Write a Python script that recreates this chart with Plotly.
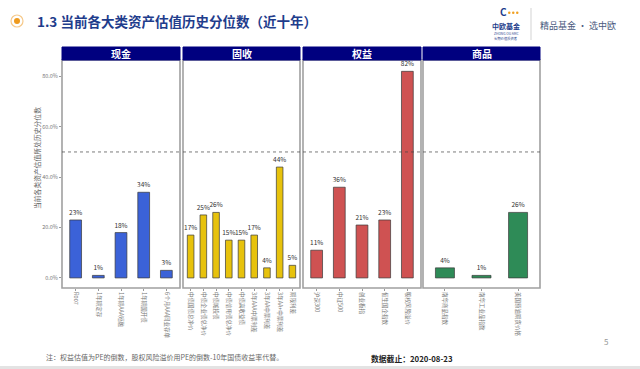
import plotly.graph_objects as go

# ---------------- data ----------------
panel_titles = ["现金", "固收", "权益", "商品"]
cash_labels = ["R007", "1年期定存", "1年期AAA短融", "1年期国开债", "6个月AAA同业存单"]
cash_values = [23, 1, 18, 34, 3]
fixed_labels = ["中债国债总净价", "中债企业债总净价", "中债城投债", "中债信用债总净价", "中债高收益债",
                "3年AAA中票利差", "3年AA中票利差", "3年AA+中票利差", "期限利差"]
fixed_values = [17, 25, 26, 15, 15, 17, 4, 44, 5]
equity_labels = ["沪深300", "中证500", "创业板指", "恒生国企指数", "股权风险溢价"]
equity_values = [11, 36, 21, 23, 82]
comm_labels = ["南华商品指数", "南华工业品指数", "美国原油期货价格"]
comm_values = [4, 1, 26]
y_ticks = [0, 20, 40, 60, 80]
y_ticktext = ["0.0%", "20.0%", "40.0%", "60.0%", "80.0%"]
reference_level = 50

panels = [
    (cash_labels, cash_values, "#3B62D8"),
    (fixed_labels, fixed_values, "#E7C20C"),
    (equity_labels, equity_values, "#CF5252"),
    (comm_labels, comm_values, "#2E8B57"),
]

W, H = 640, 369
def px(x):
    return x / W
def py(y):
    return (H - y) / H

x0s = [62, 183, 303, 423]
x1s = [180, 300, 421, 540]
plot_top, plot_bot = 60, 288
strip_top = 47

fig = go.Figure()
layout = dict(
    width=W, height=H,
    margin=dict(l=0, r=0, t=0, b=0),
    paper_bgcolor="white", plot_bgcolor="white",
    showlegend=False,
    font=dict(family="Noto Sans CJK SC, Noto Sans, sans-serif"),
)
shapes = []
annotations = []

def note(text, x, y, size, color, xanchor="center", yanchor="middle", **kw):
    annotations.append(dict(text=text, xref="paper", yref="paper", x=px(x), y=py(y),
                            xanchor=xanchor, yanchor=yanchor, showarrow=False,
                            borderpad=0, font=dict(size=size, color=color), **kw))

for i, (labels, values, color) in enumerate(panels):
    n = i + 1
    xa = "x" if n == 1 else f"x{n}"
    ya = "y" if n == 1 else f"y{n}"
    fig.add_trace(go.Bar(
        x=list(range(len(labels))), y=values, xaxis=xa, yaxis=ya,
        width=0.52,
        marker=dict(color=color, line=dict(color="#3a3a3a", width=0.7)),
        text=[f"{v}%" for v in values], textposition="outside",
        textfont=dict(size=6.5, color="#333333"), constraintext="none",
        cliponaxis=False, hoverinfo="skip",
    ))
    layout[f"xaxis{'' if n == 1 else n}"] = dict(
        domain=[px(x0s[i]), px(x1s[i])], anchor=ya,
        range=[-0.6, len(labels) - 0.4],
        tickmode="array", tickvals=list(range(len(labels))), ticktext=labels,
        tickangle=90, tickfont=dict(size=5.5, color="#777777"),
        showgrid=False, zeroline=False, showline=False,
        ticks="outside", ticklen=2, tickcolor="#999999",
        fixedrange=True,
    )
    yd = dict(
        domain=[py(plot_bot), py(plot_top)], anchor=xa,
        range=[-4, 86.5], showgrid=False, zeroline=False, showline=False,
        fixedrange=True,
    )
    if n == 1:
        yd.update(tickmode="array", tickvals=y_ticks, ticktext=y_ticktext,
                  tickfont=dict(size=5.5, color="#777777"),
                  ticks="outside", ticklen=2, tickcolor="#999999")
    else:
        yd.update(showticklabels=False, matches="y")
    layout[f"yaxis{'' if n == 1 else n}"] = yd

    # panel border
    shapes.append(dict(type="rect", xref="paper", yref="paper",
                       x0=px(x0s[i]), x1=px(x1s[i]), y0=py(plot_bot), y1=py(plot_top),
                       line=dict(color="#a0a0a0", width=1.6), layer="above"))
    # strip
    shapes.append(dict(type="rect", xref="paper", yref="paper",
                       x0=px(x0s[i]), x1=px(x1s[i]), y0=py(plot_top), y1=py(strip_top),
                       fillcolor="#00007F", line=dict(color="#00007F", width=1)))
    note(f"<b>{panel_titles[i]}</b>", (x0s[i] + x1s[i]) / 2, (strip_top + plot_top) / 2,
         10, "white")
    # dashed reference line
    shapes.append(dict(type="line", xref=f"{xa} domain", yref=ya,
                       x0=0, x1=1, y0=reference_level, y1=reference_level,
                       line=dict(color="#444444", width=0.7, dash="dot")))

# y axis title
note("当前各类资产估值所处历史分位数", 37, 158, 6.8, "#666666", textangle=-90)

# slide header
shapes.append(dict(type="circle", xref="paper", yref="paper",
                   x0=px(11), x1=px(23), y0=py(27), y1=py(15),
                   line=dict(color="#F6C98A", width=1.2), fillcolor="white"))
shapes.append(dict(type="circle", xref="paper", yref="paper",
                   x0=px(14), x1=px(20), y0=py(24), y1=py(18),
                   line=dict(width=0), fillcolor="#EE9A1E"))
note("<b>1.3 当前各大类资产估值历史分位数（近十年）</b>", 36, 21, 13.5, "#1F3D8C",
     xanchor="left")
# logo
note("<b>C</b>", 503, 12, 10, "#1F3D8C")
for dx in [508, 512, 516]:
    shapes.append(dict(type="circle", xref="paper", yref="paper",
                       x0=px(dx), x1=px(dx + 2.5), y0=py(14), y1=py(11.5),
                       line=dict(width=0), fillcolor="#F0A020"))
note("<b>中欧基金</b>", 506, 26, 7, "#1F3D8C")
note("ZHONG OU AMC", 506, 33.5, 3.3, "#1F3D8C")
note("长期价值投资者", 506, 38.5, 3.3, "#1F3D8C")
shapes.append(dict(type="line", xref="paper", yref="paper", x0=px(531), x1=px(531),
                   y0=py(40), y1=py(8), line=dict(color="#c8c8c8", width=0.8)))
note("精品基金 · 选中欧", 539, 25, 9, "#4A5A80", xanchor="left")

# footer
note("注：权益估值为PE的倒数，股权风险溢价用PE的倒数-10年国债收益率代替。", 45, 357, 7,
     "#666666", xanchor="left")
note("<b>数据截止：2020-08-23</b>", 370, 358, 7.8, "#222222", xanchor="left")
note("5", 606, 341, 8, "#999999")
shapes.append(dict(type="rect", xref="paper", yref="paper", x0=0, x1=1,
                   y0=0, y1=py(366), fillcolor="#E3E3E3", line=dict(width=0)))

layout["shapes"] = shapes
layout["annotations"] = annotations
fig.update_layout(**layout)
fig.write_html("out.html", config={"displayModeBar": False},
               post_script="document.body.style.margin='0';document.body.style.overflow='hidden';")
